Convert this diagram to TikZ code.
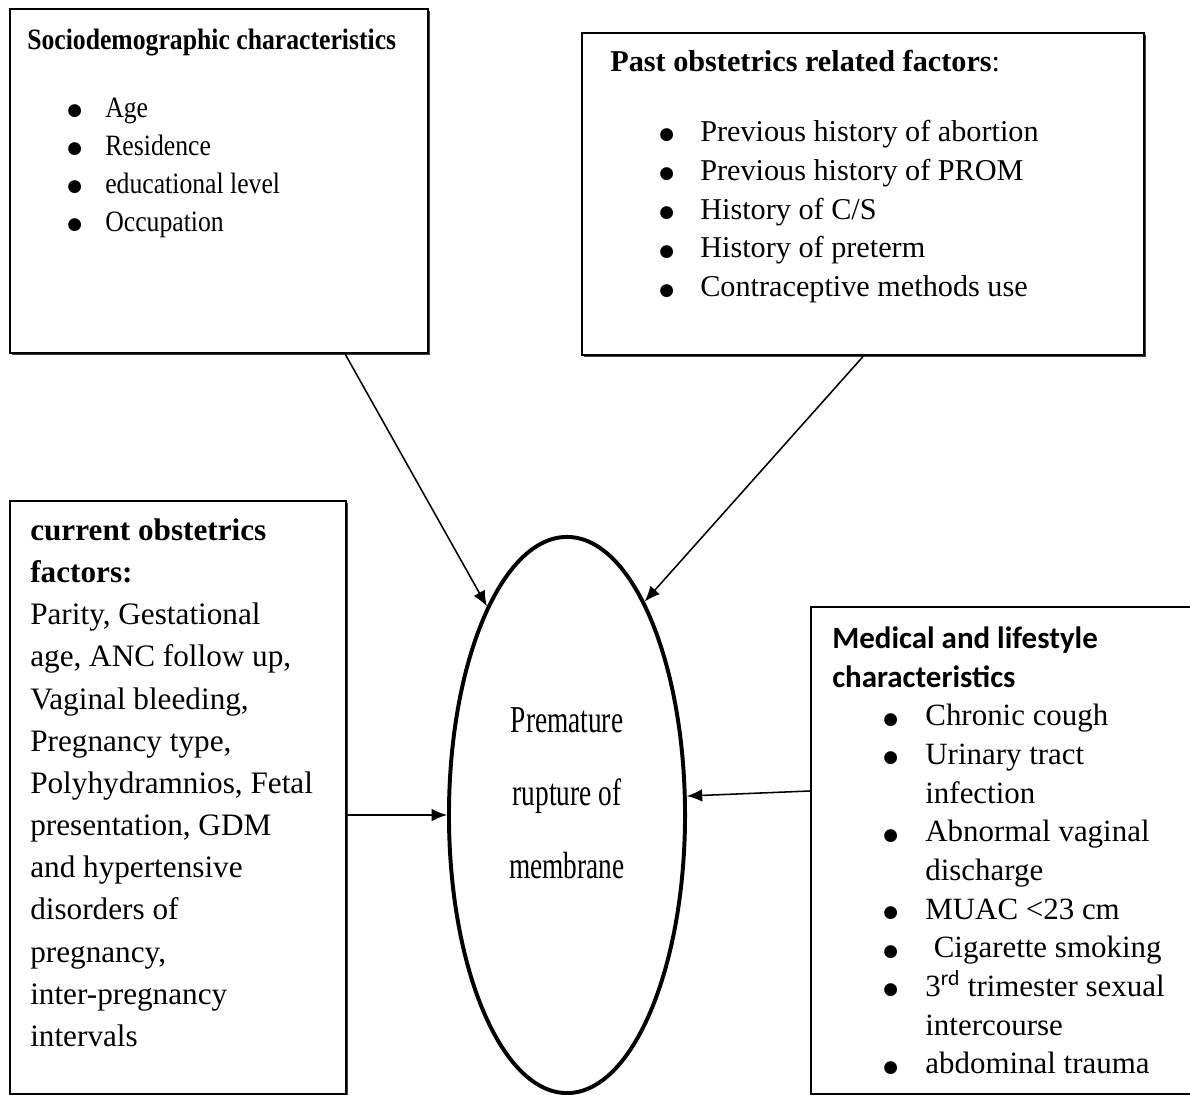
\documentclass[tikz,border=0pt]{standalone}
\usepackage{fontspec}
\setmainfont{Liberation Serif}
\newfontfamily\calibri{Carlito}
\newfontfamily\symb{DejaVu Sans}
\usepackage{tikz}
\usetikzlibrary{shapes.geometric}
\usetikzlibrary{shadows}
\usetikzlibrary{calc}
\usetikzlibrary{arrows.meta}
\tikzset{>={Latex[length=11pt,width=9pt]}}
\tikzset{panel/.style={draw, line width=1.6pt, fill=white, anchor=north west, inner sep=0pt, drop shadow={shadow xshift=1.4pt, shadow yshift=-1.4pt, fill=black!75, opacity=1}}}
\tikzset{txt/.style={anchor=north west, inner sep=0pt, align=left}}
\tikzset{arr/.style={->, line width=1.1pt}}
\newcommand{\itm}[2]{\hspace*{#1}\makebox[#2][l]{\hspace{1.5pt}\raisebox{1.2pt}{\fontsize{12}{12}\selectfont\symb ●}}}
\newcommand{\squeeze}[1]{\scalebox{0.72}[1]{#1}}

\begin{document}
\begin{tikzpicture}[x=0.025cm, y=-0.025cm]
\useasboundingbox (0,0) rectangle (1190,1095);
\clip (0,0) rectangle (1190,1095);
\node[panel, minimum width=10.45cm, minimum height=8.6cm] (socio) at (9,8) {};
\node[panel, minimum width=14.05cm, minimum height=8.05cm] (past) at (581,32) {};
\node[panel, minimum width=8.4cm, minimum height=14.825cm] (curr) at (9,500) {};
\node[panel, minimum width=9.9cm, minimum height=12.175cm] (med) at (810,606) {};
\node[draw, ellipse, line width=2.8pt, minimum width=5.9cm, minimum height=13.9cm] (prom) at (567,815) {};

\node[txt, font=\fontsize{21}{27}\selectfont\addfontfeature{FakeStretch=0.87}] (sociotxt) at (27,22.4) {\strut\textbf{Sociodemographic characteristics}\\[21.3pt]
\itm{27pt}{28.5pt}Age\\
\itm{27pt}{28.5pt}Residence\\
\itm{27pt}{28.5pt}educational level\\
\itm{27pt}{28.5pt}Occupation};

\node[txt, font=\fontsize{21.5}{27.7}\selectfont] (pasttxt) at (610,43.7) {\strut\textbf{Past obstetrics related factors}:\\[22pt]
\itm{33.4pt}{30.6pt}Previous history of abortion\\
\itm{33.4pt}{30.6pt}Previous history of PROM\\
\itm{33.4pt}{30.6pt}History of C/S\\
\itm{33.4pt}{30.6pt}History of preterm\\
\itm{33.4pt}{30.6pt}Contraceptive methods use};

\node[txt, font=\fontsize{22.2}{30}\selectfont] (currtxt) at (30,510.5) {\strut\textbf{current obstetrics}\\
\textbf{factors:}\\
Parity, Gestational\\
age, ANC follow up,\\
Vaginal bleeding,\\
Pregnancy type,\\
Polyhydramnios, Fetal\\
presentation, GDM\\
and hypertensive\\
disorders of\\
pregnancy,\\
inter-pregnancy\\
intervals};

\node[txt, font=\fontsize{22}{27.5}\selectfont] (medtxt) at (832,621) {\strut{\calibri\bfseries Medical and lifestyle}\\
{\calibri\bfseries characteristics}\\
\itm{34.9pt}{31.3pt}Chronic cough\\
\itm{34.9pt}{31.3pt}Urinary tract\\
\hspace*{66.2pt}infection\\
\itm{34.9pt}{31.3pt}Abnormal vaginal\\
\hspace*{66.2pt}discharge\\
\itm{34.9pt}{31.3pt}MUAC <23 cm\\
\itm{34.9pt}{31.3pt}\hspace*{6pt}Cigarette smoking\\
\itm{34.9pt}{31.3pt}3\textsuperscript{\calibri rd} trimester sexual\\
\hspace*{66.2pt}intercourse\\
\itm{34.9pt}{31.3pt}abdominal trauma};

\node[font=\fontsize{27}{52}\selectfont, align=center] (promtxt) at (567,793) {\squeeze{Premature}\\ \squeeze{rupture of}\\ \squeeze{membrane}};

\coordinate (s1) at ($(socio.south west)!0.8!(socio.south east)$);
\coordinate (s4) at ($(med.north west)!0.378!(med.south west)$);
\draw[arr] (s1) -- (prom.111);
\draw[arr] (past.south) -- (prom.70);
\draw[arr] (curr.east |- prom.west) -- (prom.west);
\draw[arr] (s4) -- (prom.9);
\end{tikzpicture}
\end{document}
